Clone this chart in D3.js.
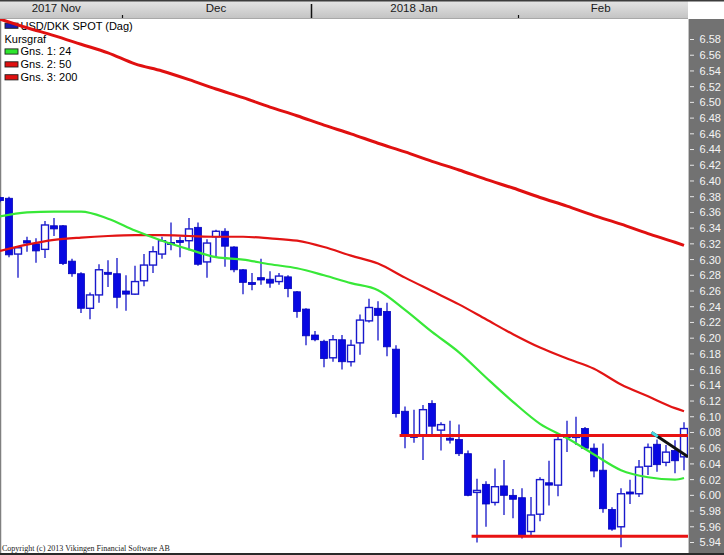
<!DOCTYPE html>
<html><head><meta charset="utf-8">
<script src="https://cdn.jsdelivr.net/npm/d3@7"></script>
<style>body{margin:0;background:#fff;} svg{display:block;}</style>
</head><body><svg id="c" width="724" height="555"></svg>
<script>
// ---------- DATA ----------
const candleOpen = [6.379,6.378,6.307,6.324,6.320,6.313,6.343,6.343,6.298,6.282,
 6.238,6.255,6.283,6.282,6.260,6.256,6.273,6.293,6.307,6.321,
 6.324,6.324,6.341,6.297,6.329,6.336,6.316,6.287,6.270,6.277,
 6.275,6.272,6.278,6.259,6.237,6.204,6.196,6.175,6.198,6.170,
 6.194,6.222,6.238,6.234,6.186,6.107,6.076,6.077,6.117,6.083,
 6.072,6.071,6.053,6.004,6.014,5.991,6.012,6.000,5.997,5.954,
 5.976,6.016,6.013,6.076,6.074,6.085,6.060,6.032,5.982,5.960,
 6.004,6.002,6.037,6.065,6.042,6.057,6.049];
const candleHigh = [6.380,6.380,6.317,6.329,6.327,6.349,6.353,6.344,6.301,6.284,
 6.258,6.294,6.299,6.302,6.280,6.292,6.307,6.317,6.329,6.347,
 6.329,6.353,6.347,6.326,6.338,6.340,6.317,6.288,6.283,6.301,
 6.285,6.283,6.280,6.260,6.238,6.209,6.198,6.204,6.204,6.198,
 6.230,6.250,6.247,6.245,6.191,6.113,6.109,6.115,6.121,6.093,
 6.095,6.090,6.057,6.021,6.018,6.034,6.045,6.008,6.009,5.998,
 6.023,6.044,6.075,6.095,6.100,6.087,6.066,6.066,5.985,6.009,
 6.020,6.045,6.066,6.071,6.064,6.070,6.093];
const candleLow = [6.373,6.303,6.277,6.310,6.296,6.302,6.330,6.293,6.278,6.232,
 6.224,6.245,6.265,6.238,6.235,6.255,6.266,6.283,6.301,6.312,
 6.303,6.312,6.292,6.277,6.303,6.291,6.284,6.256,6.261,6.268,
 6.264,6.268,6.252,6.226,6.191,6.196,6.163,6.170,6.160,6.164,
 6.179,6.220,6.197,6.177,6.099,6.060,6.067,6.045,6.075,6.057,
 6.066,6.050,5.999,5.940,5.960,5.987,5.975,5.971,5.945,5.948,
 5.967,5.987,5.999,6.055,6.064,6.058,6.023,5.978,5.955,5.934,
 5.989,5.998,6.026,6.030,6.037,6.028,6.032];
const candleClose = [6.375,6.306,6.315,6.321,6.311,6.344,6.339,6.295,6.282,6.238,
 6.255,6.287,6.282,6.252,6.256,6.272,6.293,6.310,6.324,6.320,
 6.322,6.339,6.294,6.321,6.336,6.317,6.287,6.271,6.269,6.274,
 6.270,6.279,6.263,6.234,6.203,6.198,6.174,6.198,6.170,6.191,
 6.223,6.239,6.229,6.189,6.104,6.075,6.074,6.109,6.088,6.090,
 6.071,6.053,6.000,6.006,5.989,6.011,6.000,5.995,5.949,5.975,
 6.020,6.013,6.071,6.074,6.076,6.060,6.031,5.983,5.957,6.002,
 6.002,6.036,6.061,6.039,6.055,6.044,6.085];

const maIdx = [0,3,6,9,12,15,18,21,24,27,30,33,36,39,42,45,48,51,54,57,60,63,66,69,72,75,76];
const ma24  = [6.355,6.360,6.361,6.361,6.352,6.337,6.324,6.313,6.303,6.300,6.294,6.289,6.280,6.270,6.261,6.236,6.208,6.182,6.150,6.119,6.091,6.073,6.052,6.032,6.023,6.020,6.022];
const ma50  = [6.311,6.319,6.325,6.328,6.330,6.331,6.331,6.330,6.329,6.329,6.327,6.324,6.316,6.305,6.295,6.277,6.260,6.243,6.224,6.205,6.188,6.174,6.161,6.141,6.126,6.111,6.107];
const ma200 = [6.606,6.595,6.585,6.574,6.563,6.549,6.540,6.529,6.517,6.506,6.494,6.483,6.471,6.460,6.448,6.437,6.425,6.414,6.402,6.391,6.379,6.368,6.356,6.345,6.333,6.322,6.318];

const hLineLevel = [6.076, 5.948];
const hLineStart = [44.4, 52.4];
const hLineEnd   = [76.45, 76.45];
const trendIdx = [72.4, 76.45];
const trendVal = [6.080, 6.049];

const monthLabels = ["2017 Nov","Dec","2018 Jan","Feb"];
const monthStart  = [-1, 13.5, 34.5, 57.5];
const lastIdx = 76;

const yTicks = [5.94,5.96,5.98,6.00,6.02,6.04,6.06,6.08,6.10,6.12,6.14,6.16,6.18,6.20,6.22,6.24,6.26,
 6.28,6.30,6.32,6.34,6.36,6.38,6.40,6.42,6.44,6.46,6.48,6.50,6.52,6.54,6.56,6.58];

const legendLabels = ["USD/DKK SPOT (Dag)","Kursgraf","Gns. 1: 24","Gns. 2: 50","Gns. 3: 200"];
const legendColors = ["#1c1cb0", null, "#2ee62e", "#e01010", "#e01010"];

// ---------- DRAW ----------
const svg = d3.select('#c');
const plotR = 688, plotT = 19, plotB = 553;
const x = d3.scaleLinear().domain([0, 76]).range([0, 684]);
const y = d3.scaleLinear().domain([5.94, 6.58]).range([542.5, 39.5]);
const font = "'Liberation Sans', Arial, sans-serif";

const defs = svg.append('defs');
const g1 = defs.append('linearGradient').attr('id','topg').attr('x1',0).attr('y1',0).attr('x2',0).attr('y2',1);
g1.append('stop').attr('offset','0%').attr('stop-color','#e6e6e6');
g1.append('stop').attr('offset','100%').attr('stop-color','#c2c2c2');
defs.append('clipPath').attr('id','clip').append('rect')
  .attr('x',0).attr('y',plotT).attr('width',plotR).attr('height',plotB-plotT);

svg.append('rect').attr('width',724).attr('height',555).attr('fill','#fff');

// top time bar
svg.append('rect').attr('x',0).attr('y',0).attr('width',plotR).attr('height',plotT).attr('fill','url(#topg)');
svg.append('line').attr('x1',0).attr('x2',724).attr('y1',0.75).attr('y2',0.75).attr('stroke','#3c3c3c').attr('stroke-width',1.5);
svg.append('line').attr('x1',0).attr('x2',plotR).attr('y1',18.5).attr('y2',18.5).attr('stroke','#a8a8a8').attr('stroke-width',1);

monthLabels.forEach((lab,i)=>{
  const s = monthStart[i], e = i < monthLabels.length-1 ? monthStart[i+1] : lastIdx;
  svg.append('text').attr('x', (x(s)+x(e))/2).attr('y', 11.5)
    .attr('text-anchor','middle').attr('font-family',font).attr('font-size','11.5px')
    .attr('fill','#1a1a1a').text(lab);
  if (i > 0) {
    const tall = /^\d{4}/.test(lab);
    const xx = Math.round(x(s)) + 0.5;
    svg.append('line').attr('x1',xx).attr('x2',xx)
      .attr('y1', tall ? 4 : 15).attr('y2', 18)
      .attr('stroke','#111').attr('stroke-width', tall ? 1.5 : 1.2);
  }
});

// right price panel
svg.append('rect').attr('x',plotR).attr('y',plotT).attr('width',724-plotR).attr('height',555-plotT).attr('fill','#727272');
svg.append('line').attr('x1',plotR+0.5).attr('x2',plotR+0.5).attr('y1',plotT).attr('y2',555).attr('stroke','#c4c4c4');
yTicks.forEach(v=>{
  const yy = y(v);
  svg.append('line').attr('x1',690).attr('x2',694).attr('y1',yy).attr('y2',yy).attr('stroke','#e8e8e8').attr('stroke-width',1);
  svg.append('text').attr('x',721).attr('y',yy).attr('dy','0.36em').attr('text-anchor','end')
    .attr('font-family',font).attr('font-size','11px').attr('fill','#f5f5f5').text(v.toFixed(2));
});

// borders
svg.append('line').attr('x1',0.5).attr('x2',0.5).attr('y1',plotT).attr('y2',555).attr('stroke','#808080').attr('stroke-width',1.5);
svg.append('line').attr('x1',0).attr('x2',724).attr('y1',554).attr('y2',554).attr('stroke','#2a2a2a').attr('stroke-width',2);

// legend
const lg = svg.append('g');
legendLabels.forEach((lab,i)=>{
  const cy = 25.7 + i*12.9;
  if (legendColors[i]) {
    lg.append('rect').attr('x',5).attr('y',cy-2.6).attr('width',13).attr('height',5.2)
      .attr('fill',legendColors[i]).attr('stroke','#202020').attr('stroke-width',0.9);
  }
  lg.append('text').attr('x', legendColors[i] ? 20.5 : 4.5).attr('y',cy).attr('dy','0.36em')
    .attr('font-family',font).attr('font-size','11px').attr('fill','#000').text(lab);
});

// copyright
svg.append('text').attr('x',2).attr('y',551).attr('font-family',"'Liberation Serif', 'Times New Roman', serif")
  .attr('font-size','8px').attr('fill','#222').text('Copyright (c) 2013 Vikingen Financial Software AB');

// candles
const pg = svg.append('g').attr('clip-path','url(#clip)');
const bw = 7;
const candles = candleOpen.map((o,i)=>({i, o, h:candleHigh[i], l:candleLow[i], c:candleClose[i]}));
const cg = pg.append('g');
candles.forEach(d=>{
  const cx = x(d.i);
  cg.append('line').attr('x1',cx).attr('x2',cx).attr('y1',y(d.h)).attr('y2',y(d.l))
    .attr('stroke','#1414c8').attr('stroke-width',1.3);
  const top = y(Math.max(d.o,d.c)), bot = y(Math.min(d.o,d.c));
  let hgt = bot-top, yy = top;
  if (hgt < 2) { yy = (top+bot)/2 - 1; hgt = 2; }
  const down = d.c < d.o;
  cg.append('rect').attr('x',cx-bw/2).attr('y',yy).attr('width',bw).attr('height',hgt)
    .attr('fill', down ? '#0808e2' : '#ffffff')
    .attr('stroke', down ? '#0606b8' : '#1818cc')
    .attr('stroke-width', down ? 0.8 : 1.4);
});

// moving averages
const line = d3.line().x(d=>x(d[0])).y(d=>y(d[1])).curve(d3.curveMonotoneX);
[[ma50,'#e21414',2.2],[ma24,'#38e838',2.2],[ma200,'#e01010',3]].forEach(([arr,col,w])=>{
  pg.append('path').attr('d', line(maIdx.map((k,j)=>[k,arr[j]])))
    .attr('fill','none').attr('stroke',col).attr('stroke-width',w).attr('stroke-linejoin','round');
});

// horizontal support / resistance lines
hLineLevel.forEach((v,i)=>{
  pg.append('line').attr('x1',x(hLineStart[i])).attr('x2',x(hLineEnd[i]))
    .attr('y1',y(v)).attr('y2',y(v)).attr('stroke','#e81212').attr('stroke-width',3);
});

// trend line
pg.append('line').attr('x1',x(trendIdx[0])).attr('x2',x(trendIdx[1]))
  .attr('y1',y(trendVal[0])).attr('y2',y(trendVal[1])).attr('stroke','#111').attr('stroke-width',3);
const tFrac = 0.17;
pg.append('line').attr('x1',x(trendIdx[0])).attr('x2',x(trendIdx[0]+(trendIdx[1]-trendIdx[0])*tFrac))
  .attr('y1',y(trendVal[0])).attr('y2',y(trendVal[0]+(trendVal[1]-trendVal[0])*tFrac))
  .attr('stroke','#48d8e0').attr('stroke-width',3);
</script></body></html>
